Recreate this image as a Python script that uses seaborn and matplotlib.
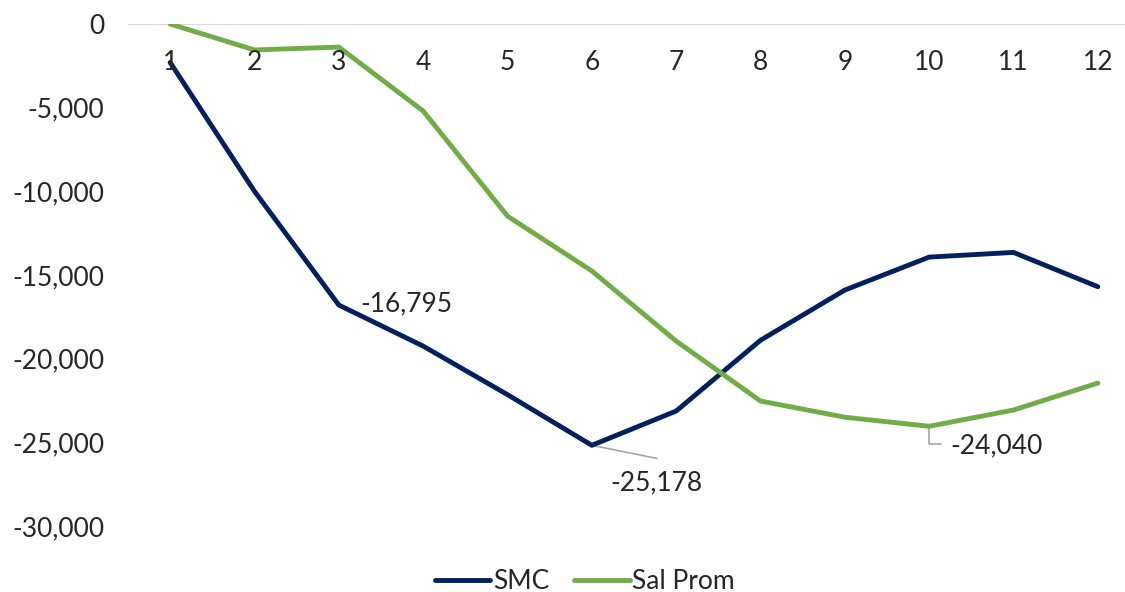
import matplotlib
matplotlib.use("Agg")
import matplotlib.pyplot as plt
import matplotlib.transforms as mtransforms
import numpy as np
import pandas as pd
import seaborn as sns

# --- data ---
periods = list(range(1, 13))
smc = [-2300, -10000, -16795, -19250, -22150, -25178, -23130, -18900, -15900, -13930, -13650, -15700]
sal_prom = [0, -1550, -1380, -5200, -11480, -14760, -18950, -22530, -23500, -24040, -23070, -21460]
series_names = ['SMC', 'Sal Prom']
y_ticks = [0, -5000, -10000, -15000, -20000, -25000, -30000]

df = pd.DataFrame({
    'Periodo': periods * 2,
    'Valor': smc + sal_prom,
    'Serie': ['SMC'] * 12 + ['Sal Prom'] * 12,
})

sns.set_theme(style="white")
plt.rcParams['font.family'] = ['Lato', 'DejaVu Sans']

palette = {'SMC': '#002060', 'Sal Prom': '#70AD47'}
FS = 19

fig = plt.figure(figsize=(11.25, 5.92), dpi=100)
ax = fig.add_axes([128 / 1125, 1 - 526 / 592, 1012 / 1125, 502 / 592])

sns.lineplot(data=df, x='Periodo', y='Valor', hue='Serie', hue_order=series_names,
             palette=palette, linewidth=3.5, ax=ax, legend=True)

ax.set_xlim(0.5, 12.5)
ax.set_ylim(-30000, 0)
ax.set_yticks(y_ticks)
ax.set_yticklabels([f"{v:,}" for v in y_ticks], fontsize=FS)
ax.tick_params(axis='y', length=0, pad=17)
ax.set_xticks([])
ax.set_xlabel('')
ax.set_ylabel('')
for s in ['top', 'right', 'left', 'bottom']:
    ax.spines[s].set_visible(False)

# category axis sits at y = 0, labels just below it
ax.axhline(0, color='#d9d9d9', linewidth=1.5, zorder=0)
trans = mtransforms.blended_transform_factory(ax.transData, ax.transAxes)
for p in periods:
    ax.text(p, 0.924, str(p), transform=trans, ha='center', va='center', fontsize=FS)

# data labels
ax.annotate(f"{smc[2]:,}", xy=(3, smc[2]), xytext=(22, 1), textcoords='offset pixels',
            ha='left', va='center', fontsize=FS)
ax.annotate(f"{smc[5]:,}", xy=(6, smc[5]), xytext=(65, -38), textcoords='offset pixels',
            ha='center', va='center', fontsize=FS)
ax.plot([6, 6.77], [smc[5], smc[5] - 780], color='#a6a6a6', linewidth=1.2, zorder=1)
ax.annotate(f"{sal_prom[9]:,}", xy=(10, sal_prom[9]), xytext=(67, -20), textcoords='offset pixels',
            ha='center', va='center', fontsize=FS)
ax.plot([10, 10, 10.14], [sal_prom[9], sal_prom[9] - 1080, sal_prom[9] - 1080],
        color='#a6a6a6', linewidth=1.2, zorder=1)

leg = ax.legend(loc='lower center', bbox_to_anchor=(457 / 1012, -0.183), ncol=2, frameon=False,
                fontsize=FS, handlelength=2.1, handletextpad=0.1, columnspacing=0.95)
for line in leg.get_lines():
    line.set_linewidth(3.5)

fig.savefig('out.png', dpi=100)
